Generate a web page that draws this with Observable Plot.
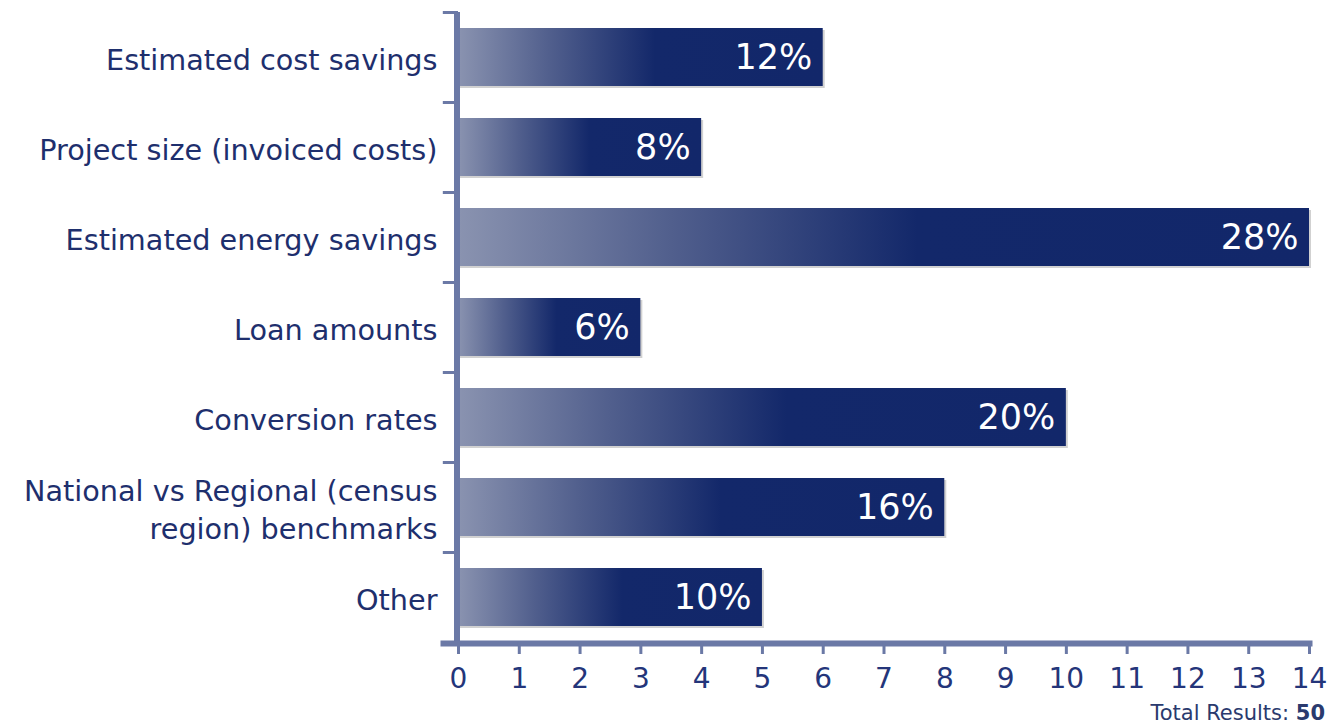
<!DOCTYPE html>
<html>
<head>
<meta charset="utf-8">
<script src="https://cdn.jsdelivr.net/npm/d3@7"></script>
<script src="https://cdn.jsdelivr.net/npm/@observablehq/plot@0.6"></script>
<style>
  html, body { margin: 0; padding: 0; background: #fff; }
  body { position: relative; width: 1330px; height: 725px; overflow: hidden; }
  #chart svg { display: block; }
  #caption { position: absolute; top: 703px; right: 5px; font-family: "DejaVu Sans", sans-serif; font-size: 21px; color: #2a3a6e; line-height: 21px; }
</style>
</head>
<body>
<div id="chart"></div>
<div id="caption">Total Results: <b>50</b></div>
<script>
const categories = [
  "Estimated cost savings",
  "Project size (invoiced costs)",
  "Estimated energy savings",
  "Loan amounts",
  "Conversion rates",
  "National vs Regional (census\nregion) benchmarks",
  "Other"
];
const counts = [6, 4, 14, 3, 10, 8, 5];
const percentLabels = ["12%", "8%", "28%", "6%", "20%", "16%", "10%"];
const xTicks = [0,1,2,3,4,5,6,7,8,9,10,11,12,13,14];

const data = categories.map((c, i) => ({category: c, value: counts[i], label: percentLabels[i]}));

const W = 1330, H = 700, MT = 12, MB = 58, ML = 458, MR = 21;
const step = (H - MT - MB) / categories.length;
const axisColor = "#6b79a6";
const textColor = "#1e2f6d";
const font = "DejaVu Sans, sans-serif";

const plot = Plot.plot({
  width: W, height: H,
  marginTop: MT, marginBottom: MB, marginLeft: ML, marginRight: MR,
  style: {fontFamily: font, background: "white"},
  x: {domain: [0, 14], axis: null},
  y: {domain: categories, padding: 0, axis: null},
  marks: [
    // shadow
    Plot.barX(data, {x: "value", y: "category", insetTop: 16, insetBottom: 16, dx: 2, dy: 2, fill: "#000", fillOpacity: 0.18}),
    // gradient bars
    Plot.barX(data, {x: "value", y: "category", insetTop: 16, insetBottom: 16, fill: "url(#barGrad)"}),
    // percent labels
    Plot.text(data, {x: "value", y: "category", text: "label", textAnchor: "end", dx: -11, fill: "white", fontSize: 35}),
    // category labels
    Plot.text(data, {x: 0, y: "category", text: "category", textAnchor: "end", dx: -21, fill: textColor, fontSize: 28.7, lineHeight: 1.32}),
    // band separator ticks
    Plot.ruleY(categories, {y: d => d, dy: -step / 2, x1: -0.25, x2: 0, stroke: axisColor, strokeWidth: 3}),
    Plot.ruleY(categories.slice(-1), {y: d => d, dy: step / 2, x1: -0.25, x2: 0, stroke: axisColor, strokeWidth: 3}),
    // y axis line
    Plot.ruleX([0], {stroke: axisColor, strokeWidth: 6, dx: -1.5}),
    // x axis line
    Plot.frame({anchor: "bottom", stroke: axisColor, strokeWidth: 6, insetLeft: -15, dy: 1}),
    // x axis ticks and labels
    Plot.axisX(xTicks, {anchor: "bottom", tickSize: 12, tickPadding: 14, stroke: axisColor, strokeWidth: 3, fill: "#24357a", fontSize: 28, tickFormat: d => String(d), label: null})
  ]
});

const defs = d3.select(plot).insert("defs", ":first-child");
const grad = defs.append("linearGradient").attr("id", "barGrad").attr("x1", "0").attr("x2", "1").attr("y1", "0").attr("y2", "0");
grad.append("stop").attr("offset", "0").attr("stop-color", "#8a93b0");
grad.append("stop").attr("offset", "0.25").attr("stop-color", "#515f8d");
grad.append("stop").attr("offset", "0.54").attr("stop-color", "#13286a");
grad.append("stop").attr("offset", "1").attr("stop-color", "#12276a");

document.getElementById("chart").appendChild(plot);
</script>
</body>
</html>
